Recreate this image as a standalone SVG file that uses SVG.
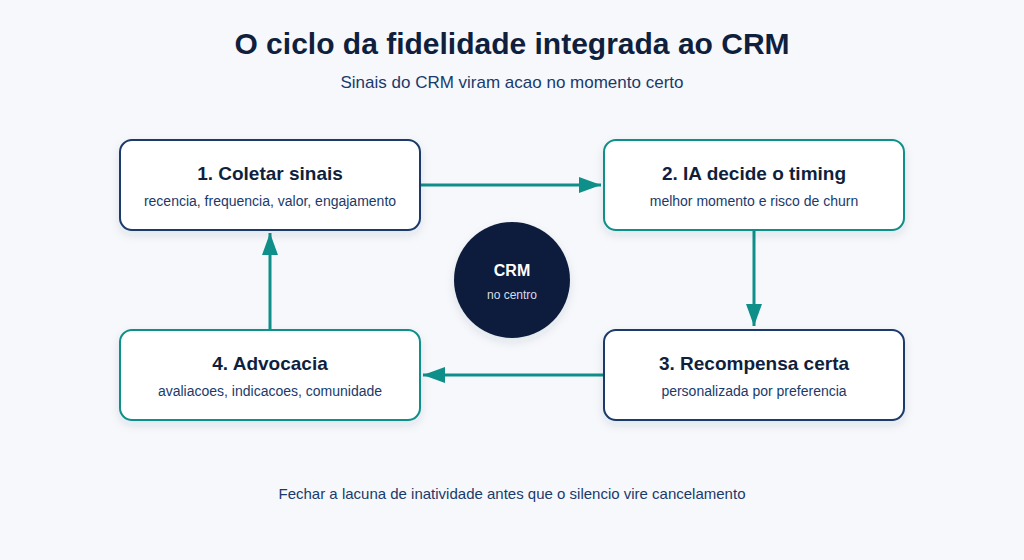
<svg xmlns="http://www.w3.org/2000/svg" width="1024" height="560" viewBox="0 0 1024 560">
<style>
text{font-family:"Liberation Sans",Arial,sans-serif}
.title{font-size:30px;font-weight:bold;fill:#0f1f3d;text-anchor:middle}
.sub{font-size:17px;fill:#1a3a6b;text-anchor:middle}
.nt{font-size:19px;font-weight:bold;fill:#0f1f3d;text-anchor:middle}
.ns{font-size:14px;fill:#1a3a6b;text-anchor:middle}
.navy{fill:#fff;stroke:#1a3a6b;stroke-width:2}
.teal{fill:#fff;stroke:#0f8f8a;stroke-width:2}
.conn{stroke:#0f8f8a;stroke-width:3;fill:none}
</style>
<defs>
<filter id="sh" x="-10%" y="-20%" width="120%" height="150%">
<feDropShadow dx="0" dy="4" stdDeviation="5" flood-color="#1a2a4a" flood-opacity="0.1"/>
</filter>
<marker id="ah" markerWidth="22" markerHeight="16" refX="22" refY="8" orient="auto" markerUnits="userSpaceOnUse">
<path d="M0,0 L22,8 L0,16 Z" fill="#0f8f8a"/>
</marker>
</defs>
<rect width="1024" height="560" fill="#f6f8fb"/>
<text class="title" x="512" y="54">O ciclo da fidelidade integrada ao CRM</text>
<text class="sub" x="512" y="88">Sinais do CRM viram acao no momento certo</text>
<g id="connectors">
<line class="conn" x1="421" y1="185" x2="601" y2="185" marker-end="url(#ah)"/>
<line class="conn" x1="754" y1="231" x2="754" y2="326" marker-end="url(#ah)"/>
<line class="conn" x1="603" y1="375" x2="423" y2="375" marker-end="url(#ah)"/>
<line class="conn" x1="270" y1="329" x2="270" y2="233" marker-end="url(#ah)"/>
</g>
<g id="node1">
<rect class="navy" x="120" y="140" width="300" height="90" rx="12" filter="url(#sh)"/>
<text class="nt" x="270" y="180">1. Coletar sinais</text>
<text class="ns" x="270" y="206">recencia, frequencia, valor, engajamento</text>
</g>
<g id="node2">
<rect class="teal" x="604" y="140" width="300" height="90" rx="12" filter="url(#sh)"/>
<text class="nt" x="754" y="180">2. IA decide o timing</text>
<text class="ns" x="754" y="206">melhor momento e risco de churn</text>
</g>
<g id="node3">
<rect class="navy" x="604" y="330" width="300" height="90" rx="12" filter="url(#sh)"/>
<text class="nt" x="754" y="370">3. Recompensa certa</text>
<text class="ns" x="754" y="396">personalizada por preferencia</text>
</g>
<g id="node4">
<rect class="teal" x="120" y="330" width="300" height="90" rx="12" filter="url(#sh)"/>
<text class="nt" x="270" y="370">4. Advocacia</text>
<text class="ns" x="270" y="396">avaliacoes, indicacoes, comunidade</text>
</g>
<g id="crm">
<circle cx="512" cy="280" r="58" fill="#0e1d3c" filter="url(#sh)"/>
<text x="512" y="276" style="font-size:16px;font-weight:bold;fill:#fff;text-anchor:middle">CRM</text>
<text x="512" y="299" style="font-size:12px;fill:#d5dde9;text-anchor:middle">no centro</text>
</g>
<text x="512" y="499" style="font-size:15px;fill:#1a3a6b;text-anchor:middle">Fechar a lacuna de inatividade antes que o silencio vire cancelamento</text>
</svg>
